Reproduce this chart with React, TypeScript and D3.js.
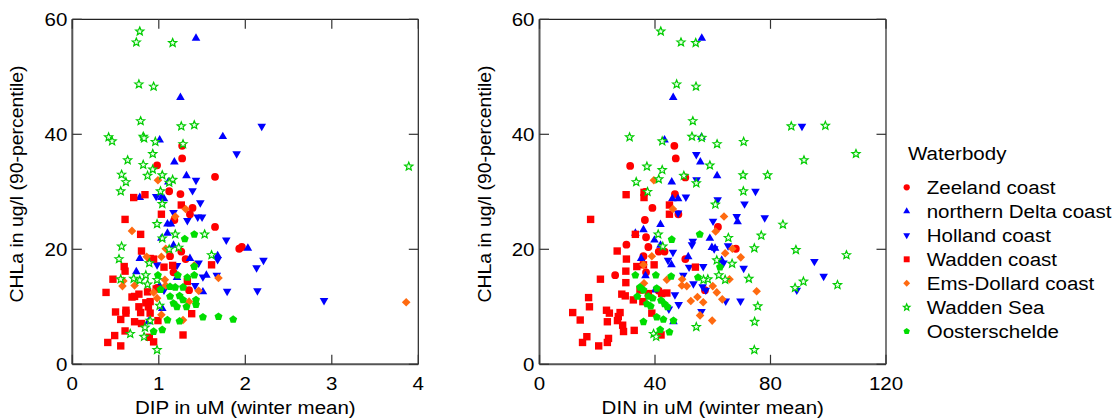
import React from "react";
import * as d3 from "d3";

type P = [number, number];

const seriesNames = ["Zeeland coast", "northern Delta coast", "Holland coast", "Wadden coast", "Ems-Dollard coast", "Wadden Sea", "Oosterschelde"];

// Left panel: DIP (uM) vs CHLa
const zeelandDIP: P[] = [[1.27,38.0],[1.27,35.8],[0.98,34.6],[1.65,32.6],[1.12,30.1],[1.25,29.6],[1.39,27.2],[1.36,26.1],[1.18,25.1],[1.65,23.9],[1.93,20.1],[1.96,20.4],[1.26,19.6],[1.13,18.8],[0.92,18.3],[1.31,18.3],[1.17,16.0],[1.35,12.9],[0.98,13.3]];
const northernDeltaDIP: P[] = [[1.43,56.7],[1.25,46.4],[1.01,39.0],[1.74,39.6],[1.18,35.2],[1.32,32.8],[1.11,31.7],[0.78,29.0],[1.03,29.0],[1.06,28.8],[1.10,24.4],[1.14,24.4],[1.10,22.8],[1.03,21.9],[1.17,20.7],[2.03,20.2],[0.78,18.4],[1.36,18.4],[1.68,18.9],[0.74,16.1],[1.55,15.5],[1.21,15.1],[1.01,13.6],[1.51,12.6],[1.04,9.7],[0.88,7.4]];
const hollandDIP: P[] = [[2.19,41.4],[1.90,36.6],[1.43,32.0],[1.39,30.2],[0.97,29.2],[1.48,28.1],[1.45,25.6],[1.50,25.6],[1.33,25.0],[1.17,26.4],[1.78,21.6],[1.68,18.2],[2.21,18.1],[2.13,16.8],[1.46,17.6],[1.67,15.5],[1.51,15.2],[1.42,13.7],[1.79,12.7],[2.14,12.8],[2.91,11.1],[1.21,17.2],[1.06,12.9],[0.98,17.3]];
const waddenCoastDIP: P[] = [[0.71,29.0],[0.84,29.5],[1.26,27.7],[1.03,26.1],[0.61,25.2],[0.79,22.6],[0.80,19.7],[0.94,18.3],[0.90,18.4],[0.60,17.0],[0.61,16.2],[1.06,16.9],[1.16,17.2],[1.61,17.3],[0.47,14.8],[0.39,12.5],[0.69,11.7],[0.72,11.8],[0.77,12.2],[0.87,12.6],[1.33,14.4],[0.85,10.7],[0.90,10.9],[0.77,10.0],[0.88,10.0],[0.50,9.1],[0.62,9.4],[0.62,8.9],[0.79,9.0],[0.90,8.9],[0.56,7.8],[0.72,7.4],[0.80,7.1],[0.99,7.6],[1.38,8.8],[0.61,5.8],[0.49,5.0],[0.41,3.8],[0.56,3.2],[0.89,4.7],[0.94,3.9],[1.28,5.1],[0.97,13.1]];
const emsDollardDIP: P[] = [[0.99,32.0],[1.31,27.0],[1.19,25.7],[0.69,23.2],[1.08,20.1],[1.03,18.7],[0.86,18.7],[1.41,17.2],[1.69,15.0],[0.58,13.6],[0.72,13.7],[1.07,14.7],[1.08,13.7],[1.46,12.8],[0.94,12.5],[0.98,11.5],[1.35,10.9],[1.03,8.6],[1.28,7.7],[3.86,10.8],[0.59,14.5]];
const waddenSeaDIP: P[] = [[0.78,57.9],[0.74,56.0],[1.16,55.9],[0.77,48.7],[0.94,48.3],[0.79,42.3],[1.26,41.4],[1.41,41.6],[0.42,39.5],[0.46,38.8],[0.82,39.6],[0.83,39.3],[0.96,38.7],[1.28,38.3],[0.93,36.6],[0.64,35.5],[0.82,34.7],[0.93,33.9],[0.57,33.0],[0.87,32.8],[1.04,32.9],[1.16,32.1],[1.12,31.6],[0.62,31.7],[0.56,30.1],[1.02,30.1],[1.04,27.9],[0.98,24.4],[1.19,22.6],[1.53,22.6],[1.04,21.9],[0.57,20.5],[1.12,20.0],[1.23,20.3],[1.61,19.0],[0.54,18.3],[0.89,17.6],[0.56,14.8],[0.71,14.9],[0.78,14.6],[0.85,15.5],[0.87,13.9],[0.98,14.7],[1.01,10.2],[0.90,7.6],[0.84,6.4],[0.83,4.8],[0.67,5.3],[0.98,2.5],[3.89,34.4]];
const oosterscheldeDIP: P[] = [[1.41,22.6],[1.30,21.8],[1.41,17.0],[0.99,15.5],[1.22,15.5],[1.33,15.1],[1.41,15.5],[1.13,13.5],[1.19,13.4],[1.28,13.4],[1.13,11.8],[1.24,11.9],[1.28,11.2],[1.17,10.6],[1.21,10.0],[1.32,10.0],[1.43,11.2],[1.43,10.4],[1.51,8.2],[1.69,8.3],[1.86,7.8],[1.10,7.7],[1.24,7.5],[1.04,6.0],[0.94,5.7],[1.02,13.0]];

// Right panel: DIN (uM) vs CHLa
const zeelandDIN: P[] = [[46.7,38.0],[47.2,35.8],[31.4,34.5],[50.5,32.5],[36.6,30.0],[46.9,29.6],[39.1,27.2],[48.1,26.1],[36.5,25.1],[61.8,23.9],[30.1,20.8],[36.9,22.1],[37.7,20.4],[41.3,19.6],[43.3,19.6],[68.0,20.1],[50.5,18.3],[26.2,15.5],[36.0,18.8],[36.9,16.0],[57.3,12.9],[41.3,12.8]];
const northernDeltaDIN: P[] = [[56.2,56.7],[46.3,46.4],[43.3,39.0],[56.1,39.5],[61.5,32.8],[45.8,31.7],[46.0,28.8],[48.0,28.8],[41.9,24.3],[36.0,23.4],[33.2,22.8],[59.0,21.9],[68.6,24.8],[35.2,18.4],[45.7,17.3],[51.5,18.7],[59.7,20.3],[60.8,20.2],[41.9,20.7],[39.8,21.6],[63.1,18.1],[36.7,15.4],[40.0,12.9],[46.4,7.4],[55.7,35.2]];
const hollandDIN: P[] = [[90.9,41.4],[54.3,36.5],[54.4,32.1],[50.7,29.1],[61.7,28.6],[48.0,26.3],[74.8,30.1],[71.0,27.9],[60.1,24.9],[68.3,25.7],[78.0,25.5],[53.1,21.4],[52.8,20.8],[60.5,20.1],[65.3,20.6],[46.2,19.5],[44.5,18.1],[51.8,16.9],[56.7,17.0],[70.7,16.7],[95.2,17.9],[98.4,15.3],[89.1,12.9],[63.7,17.6],[49.8,15.5],[53.3,14.0],[56.5,13.5],[57.6,12.9],[46.9,12.1],[64.5,11.0],[69.6,11.0],[48.2,10.4],[56.1,9.2],[44.8,9.6]];
const waddenCoastDIN: P[] = [[30.0,29.5],[36.2,29.0],[36.2,29.9],[45.0,27.7],[45.0,26.1],[17.7,25.2],[33.2,22.6],[26.9,19.7],[30.1,18.3],[29.9,16.2],[33.7,17.0],[36.0,17.3],[39.7,17.3],[54.0,16.9],[21.1,14.8],[29.9,14.2],[28.5,12.2],[29.7,11.9],[17.0,11.6],[17.3,10.0],[23.2,9.4],[24.2,8.9],[27.9,9.0],[27.3,8.3],[11.5,9.0],[14.1,7.7],[23.5,7.4],[27.0,7.6],[28.8,6.8],[29.1,5.7],[32.8,5.9],[34.8,12.9],[37.7,12.3],[32.5,11.2],[35.8,10.9],[42.3,12.3],[44.1,12.4],[38.9,8.9],[16.4,4.8],[14.9,3.8],[20.5,3.2],[23.9,4.5],[23.5,3.8],[42.1,5.1]];
const emsDollardDIN: P[] = [[39.6,32.0],[46.2,27.0],[63.9,25.7],[61.0,23.1],[66.8,20.1],[64.3,19.3],[69.7,18.6],[38.9,18.8],[36.0,17.3],[49.4,14.8],[49.3,13.7],[51.0,13.6],[44.1,14.7],[65.8,14.8],[60.0,13.6],[61.4,12.5],[75.2,12.7],[54.7,11.7],[63.3,11.3],[52.4,11.0],[56.7,10.8],[55.6,8.5],[59.8,7.6],[36.2,14.1]];
const waddenSeaDIN: P[] = [[42.0,57.9],[49.0,56.0],[54.1,55.9],[47.5,48.7],[54.2,48.3],[53.1,42.3],[31.2,39.5],[42.5,38.8],[52.8,39.6],[56.2,39.4],[61.5,38.3],[70.7,38.7],[87.2,41.4],[99.0,41.5],[109.6,36.6],[91.6,35.5],[37.2,34.4],[42.5,33.8],[41.3,32.2],[59.0,34.6],[33.5,31.7],[50.0,32.8],[54.3,31.5],[70.5,32.9],[79.0,32.9],[37.4,30.0],[70.6,30.1],[60.9,27.8],[84.3,24.3],[41.1,22.6],[65.4,22.0],[76.8,22.4],[42.7,20.5],[74.4,20.2],[88.8,19.9],[106.3,19.0],[61.4,18.1],[66.7,17.5],[62.1,15.5],[64.3,14.7],[58.3,14.8],[56.8,14.7],[72.5,14.9],[91.4,14.4],[88.5,13.3],[103.2,13.8],[75.6,10.1],[74.5,7.4],[54.3,6.5],[39.5,5.3],[40.4,4.8],[74.4,2.5]];
const oosterscheldeDIN: P[] = [[55.5,22.6],[45.8,21.7],[62.5,16.9],[33.2,15.5],[40.3,15.5],[45.6,15.3],[54.9,15.1],[34.8,13.4],[36.0,12.9],[33.9,11.8],[40.6,13.2],[37.7,11.8],[39.2,11.5],[37.2,10.5],[38.5,10.1],[42.1,11.1],[43.3,10.5],[44.3,10.0],[40.6,8.2],[42.9,7.8],[46.4,7.6],[36.0,7.4],[41.8,6.0],[45.0,5.6]];

const dipTicks = [0, 1, 2, 3, 4];
const dinTicks = [0, 40, 80, 120];
const chlaTicks = [0, 20, 40, 60];

type Shape = "circle" | "up" | "down" | "square" | "diamond" | "star" | "pentagon";
const shapes: Shape[] = ["circle", "up", "down", "square", "diamond", "star", "pentagon"];
const fills = ["#ff0000", "#0000ff", "#0000ff", "#ff0000", "#ff6a10", "#eaffea", "#00dd00"];
const strokes = ["none", "none", "none", "none", "none", "#00cc00", "none"];

function shapePath(s: Shape, k: number): string {
  const p = d3.path();
  if (s === "circle") {
    const r = 3.9 * k;
    p.moveTo(r, 0);
    p.arc(0, 0, r, 0, Math.PI * 2);
  } else if (s === "square") {
    const h = 3.7 * k;
    p.rect(-h, -h, 2 * h, 2 * h);
  } else if (s === "up" || s === "down") {
    const a = 8.6 * k;
    const hgt = (a * Math.sqrt(3)) / 2;
    const sg = s === "up" ? 1 : -1;
    p.moveTo(0, (-2 * hgt) / 3 * sg);
    p.lineTo(a / 2, (hgt / 3) * sg);
    p.lineTo(-a / 2, (hgt / 3) * sg);
    p.closePath();
  } else if (s === "diamond") {
    const h = 4.3 * k;
    p.moveTo(0, -h);
    p.lineTo(h, 0);
    p.lineTo(0, h);
    p.lineTo(-h, 0);
    p.closePath();
  } else if (s === "star") {
    const R = 4.3 * k, r = 1.9 * k;
    for (let i = 0; i < 10; i++) {
      const ang = -Math.PI / 2 + (i * Math.PI) / 5;
      const rr = i % 2 === 0 ? R : r;
      const x = rr * Math.cos(ang), y = rr * Math.sin(ang);
      if (i === 0) p.moveTo(x, y); else p.lineTo(x, y);
    }
    p.closePath();
  } else {
    const R = 4.2 * k;
    for (let i = 0; i < 5; i++) {
      const ang = -Math.PI / 2 + (i * 2 * Math.PI) / 5;
      const x = R * Math.cos(ang), y = R * Math.sin(ang);
      if (i === 0) p.moveTo(x, y); else p.lineTo(x, y);
    }
    p.closePath();
  }
  return p.toString();
}

const FONT = "'Liberation Sans', Arial, Helvetica, sans-serif";
const TOP = 19.3, BOTTOM = 364.3;

function T(props: { x: number; y: number; anchor?: string; rotate?: number; sx?: number; children: React.ReactNode }) {
  const { x, y, anchor = "start", rotate = 0, sx = 1.08, children } = props;
  return (
    <text
      transform={`translate(${x},${y})${rotate ? ` rotate(${rotate})` : ""} scale(${sx},1)`}
      textAnchor={anchor}
      fontFamily={FONT}
      fontSize={19}
      fill="#000"
    >
      {children}
    </text>
  );
}

function Panel(props: { x0: number; x1: number; domain: [number, number]; ticks: number[]; xTitle: string; series: P[][] }) {
  const { x0, x1, domain, ticks, xTitle, series } = props;
  const xs = d3.scaleLinear().domain(domain).range([x0, x1]);
  const ys = d3.scaleLinear().domain([0, 60]).range([BOTTOM, TOP]);
  const tl = 9.5;
  return (
    <g>
      {series.map((pts, si) => (
        <g key={si}>
          {pts.map((d, i) => (
            <path key={i} d={shapePath(shapes[si], 1)} transform={`translate(${xs(d[0])},${ys(d[1])})`} fill={fills[si]} stroke={strokes[si]} strokeWidth={1.2} />
          ))}
        </g>
      ))}
      <line x1={x0} x2={x1} y1={TOP} y2={TOP} stroke="#222" strokeWidth={1.2} />
      <line x1={x1} x2={x1} y1={TOP} y2={BOTTOM} stroke="#222" strokeWidth={1.2} />
      <line x1={x0} x2={x1} y1={BOTTOM} y2={BOTTOM} stroke="#555" strokeWidth={2} />
      <line x1={x0} x2={x0} y1={TOP} y2={BOTTOM} stroke="#555" strokeWidth={2} />
      {ticks.map((t) => (
        <g key={"x" + t}>
          <line x1={xs(t)} x2={xs(t)} y1={BOTTOM} y2={BOTTOM - tl} stroke="#333" strokeWidth={1.2} />
          <line x1={xs(t)} x2={xs(t)} y1={TOP} y2={TOP + tl} stroke="#333" strokeWidth={1.2} />
          <T x={xs(t)} y={390} anchor="middle">{t}</T>
        </g>
      ))}
      {chlaTicks.map((t) => (
        <g key={"y" + t}>
          <line x1={x0} x2={x0 + tl} y1={ys(t)} y2={ys(t)} stroke="#333" strokeWidth={1.2} />
          <line x1={x1} x2={x1 - tl} y1={ys(t)} y2={ys(t)} stroke="#333" strokeWidth={1.2} />
          <T x={x0 - 5} y={ys(t) + 7} anchor="end">{t}</T>
        </g>
      ))}
      <T x={(x0 + x1) / 2} y={414} anchor="middle">{xTitle}</T>
      <T x={x0 - 49} y={184} anchor="middle" rotate={-90} sx={1.02}>CHLa in ug/l (90-percentile)</T>
    </g>
  );
}

export default function App() {
  const left = [zeelandDIP, northernDeltaDIP, hollandDIP, waddenCoastDIP, emsDollardDIP, waddenSeaDIP, oosterscheldeDIP];
  const right = [zeelandDIN, northernDeltaDIN, hollandDIN, waddenCoastDIN, emsDollardDIN, waddenSeaDIN, oosterscheldeDIN];
  return (
    <svg width={1112} height={420} style={{ position: "absolute", left: 0, top: 0, background: "#fff" }}>
      <rect width={1112} height={420} fill="#fff" />
      <Panel x0={72.3} x1={418.3} domain={[0, 4]} ticks={dipTicks} xTitle="DIP in uM (winter mean)" series={left} />
      <Panel x0={539.5} x1={886} domain={[0, 120]} ticks={dinTicks} xTitle="DIN in uM (winter mean)" series={right} />
      <T x={908} y={160}>Waterbody</T>
      {seriesNames.map((n, i) => (
        <g key={n}>
          <path d={shapePath(shapes[i], 0.8)} transform={`translate(906.7,${187.3 + i * 24})`} fill={fills[i]} stroke={strokes[i]} strokeWidth={1.2} />
          <T x={926.7} y={194.3 + i * 24}>{n}</T>
        </g>
      ))}
    </svg>
  );
}
